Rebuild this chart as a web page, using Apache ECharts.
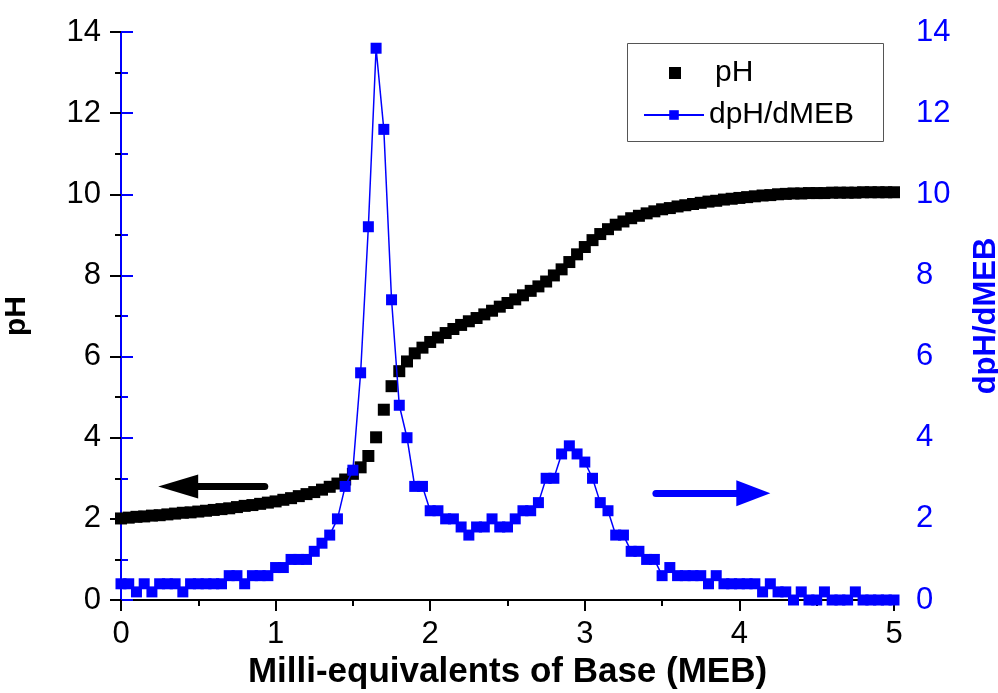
<!DOCTYPE html>
<html>
<head>
<meta charset="utf-8">
<script src="https://cdn.jsdelivr.net/npm/echarts@6/dist/echarts.min.js"></script>
<style>
  html, body { margin: 0; padding: 0; background: #fff; }
  #main { width: 998px; height: 693px; }
</style>
</head>
<body>
<div id="main"></div>
<script>
// milli-equivalents of base added
const meb = [0,0.05,0.1,0.15,0.2,0.25,0.3,0.35,0.4,0.45,0.5,0.55,0.6,0.65,0.7,0.75,0.8,0.85,0.9,0.95,
  1,1.05,1.1,1.15,1.2,1.25,1.3,1.35,1.4,1.45,1.5,1.55,1.6,1.65,1.7,1.75,1.8,1.85,1.9,1.95,
  2,2.05,2.1,2.15,2.2,2.25,2.3,2.35,2.4,2.45,2.5,2.55,2.6,2.65,2.7,2.75,2.8,2.85,2.9,2.95,
  3,3.05,3.1,3.15,3.2,3.25,3.3,3.35,3.4,3.45,3.5,3.55,3.6,3.65,3.7,3.75,3.8,3.85,3.9,3.95,
  4,4.05,4.1,4.15,4.2,4.25,4.3,4.35,4.4,4.45,4.5,4.55,4.6,4.65,4.7,4.75,4.8,4.85,4.9,4.95,5]

// pH
const ph = [2.01,2.03,2.05,2.06,2.08,2.09,2.11,2.13,2.15,2.16,
  2.18,2.20,2.22,2.24,2.26,2.29,2.32,2.34,2.37,2.40,
  2.43,2.47,2.51,2.56,2.61,2.66,2.72,2.79,2.87,2.97,
  3.11,3.27,3.55,4.01,4.69,5.27,5.64,5.88,6.08,6.22,
  6.36,6.47,6.58,6.68,6.78,6.87,6.95,7.04,7.13,7.23,
  7.32,7.41,7.51,7.62,7.73,7.85,8.00,8.15,8.33,8.52,
  8.70,8.87,9.02,9.14,9.25,9.33,9.41,9.47,9.53,9.58,
  9.63,9.66,9.70,9.73,9.76,9.79,9.82,9.84,9.87,9.89,
  9.91,9.93,9.95,9.97,9.98,10.00,10.01,10.02,10.02,10.03,
  10.03,10.03,10.04,10.04,10.04,10.04,10.05,10.05,10.05,10.05,10.05]

// dpH/dMEB
const dph = [0.4,0.4,0.2,0.4,0.2,0.4,0.4,0.4,0.2,0.4,
  0.4,0.4,0.4,0.4,0.6,0.6,0.4,0.6,0.6,0.6,
  0.8,0.8,1.0,1.0,1.0,1.2,1.4,1.6,2.0,2.8,
  3.2,5.6,9.2,13.6,11.6,7.4,4.8,4.0,2.8,2.8,
  2.2,2.2,2.0,2.0,1.8,1.6,1.8,1.8,2.0,1.8,
  1.8,2.0,2.2,2.2,2.4,3.0,3.0,3.6,3.8,3.6,
  3.4,3.0,2.4,2.2,1.6,1.6,1.2,1.2,1.0,1.0,
  0.6,0.8,0.6,0.6,0.6,0.6,0.4,0.6,0.4,0.4,
  0.4,0.4,0.4,0.2,0.4,0.2,0.2,0,0.2,0,
  0,0.2,0,0,0,0.2,0,0,0,0,0]

// arrows pointing to the axis each curve belongs to (tail, head centre)
const leftArrow = [[0.93, 2.8], [0.37, 2.8]]
const rightArrow = [[3.46, 2.63], [4.09, 2.63]]

const FONT = 'Liberation Sans, Arial, sans-serif'
const BLUE = '#0000ff'

const tickStyle = (color) => ({ color: color, width: 2 })

var myChart = echarts.init(document.getElementById('main'))

myChart.setOption({
  animation: false,
  grid: { left: 121, right: 104, top: 32, bottom: 93, outerBoundsMode: 'none', containLabel: false },
  legend: [
    {
      data: ['pH'], left: 669, top: 58, padding: 0, selectedMode: false,
      itemWidth: 12, itemHeight: 12,
      textStyle: { fontFamily: FONT, fontSize: 30, color: '#000', padding: [0, 0, 0, 29] }
    },
    {
      data: ['dpH/dMEB'], left: 643, top: 100, padding: 0, selectedMode: false,
      itemWidth: 60, itemHeight: 12,
      textStyle: { fontFamily: FONT, fontSize: 30, color: '#000' }
    }
  ],
  graphic: [{
    type: 'rect', z: 0,
    shape: { x: 627.5, y: 43.5, width: 256, height: 98 },
    style: { fill: 'none', stroke: '#555', lineWidth: 1 }
  }],
  xAxis: [
    {
      type: 'value', min: 0, max: 5, interval: 1, position: 'bottom',
      axisLine: { lineStyle: tickStyle('#000') },
      axisTick: { length: 10, lineStyle: tickStyle('#000') },
      minorTick: { show: true, splitNumber: 2, length: 6, lineStyle: tickStyle('#000') },
      splitLine: { show: false },
      axisLabel: { fontFamily: FONT, fontSize: 31, color: '#000', margin: 19 },
      name: 'Milli-equivalents of Base (MEB)', nameLocation: 'middle', nameGap: 55,
      nameTextStyle: { fontFamily: FONT, fontSize: 35, fontWeight: 'bold', color: '#000' }
    },
    {
      type: 'value', min: 0, max: 5, interval: 1, position: 'top',
      axisLine: { lineStyle: tickStyle('#000') },
      axisTick: { inside: true, length: 11, lineStyle: tickStyle('#000') },
      minorTick: { show: true, splitNumber: 2, length: 6, lineStyle: tickStyle('#000') },
      splitLine: { show: false },
      axisLabel: { show: false }
    }
  ],
  yAxis: [
    {
      type: 'value', min: 0, max: 14, interval: 2, position: 'left',
      axisLine: { show: true, lineStyle: tickStyle('#000') },
      axisTick: { show: true, length: 11, lineStyle: tickStyle('#000') },
      minorTick: { show: true, splitNumber: 2, length: 6, lineStyle: tickStyle('#000') },
      splitLine: { show: false },
      axisLabel: { fontFamily: FONT, fontSize: 31, color: '#000', margin: 20 },
      name: 'pH', nameLocation: 'middle', nameGap: 89, nameRotate: 90,
      nameTextStyle: { fontFamily: FONT, fontSize: 30, fontWeight: 'bold', color: '#000' }
    },
    {
      type: 'value', min: 0, max: 14, interval: 2, position: 'right',
      axisLine: { show: true, lineStyle: tickStyle(BLUE) },
      axisTick: { show: true, length: 12, lineStyle: tickStyle(BLUE) },
      minorTick: { show: true, splitNumber: 2, length: 7, lineStyle: tickStyle(BLUE) },
      splitLine: { show: false },
      axisLabel: { fontFamily: FONT, fontSize: 31, color: BLUE, margin: 22 },
      name: 'dpH/dMEB', nameLocation: 'middle', nameGap: 77, nameRotate: 90,
      nameTextStyle: { fontFamily: FONT, fontSize: 31, fontWeight: 'bold', color: BLUE }
    }
  ],
  series: [
    {
      name: 'pH', type: 'scatter',
      data: meb.map((x, i) => [x, ph[i]]),
      symbol: 'rect', symbolSize: 12,
      itemStyle: { color: '#000', opacity: 1 },
      markLine: {
        silent: true, animation: false,
        symbol: ['none', 'triangle'], symbolSize: [24, 40],
        label: { show: false },
        lineStyle: { color: '#000', width: 7, type: 'solid', cap: 'round', opacity: 1 },
        data: [[{ coord: leftArrow[0] }, { coord: leftArrow[1] }]]
      }
    },
    {
      name: 'dpH/dMEB', type: 'line', yAxisIndex: 1,
      data: meb.map((x, i) => [x, dph[i]]),
      symbol: 'rect', symbolSize: 11, showAllSymbol: true,
      lineStyle: { color: BLUE, width: 1.5 },
      itemStyle: { color: BLUE },
      markLine: {
        silent: true, animation: false,
        symbol: ['none', 'triangle'], symbolSize: [26, 34],
        label: { show: false },
        lineStyle: { color: BLUE, width: 7, type: 'solid', cap: 'round' },
        data: [[{ coord: rightArrow[0] }, { coord: rightArrow[1] }]]
      }
    }
  ]
})
</script>
</body>
</html>
